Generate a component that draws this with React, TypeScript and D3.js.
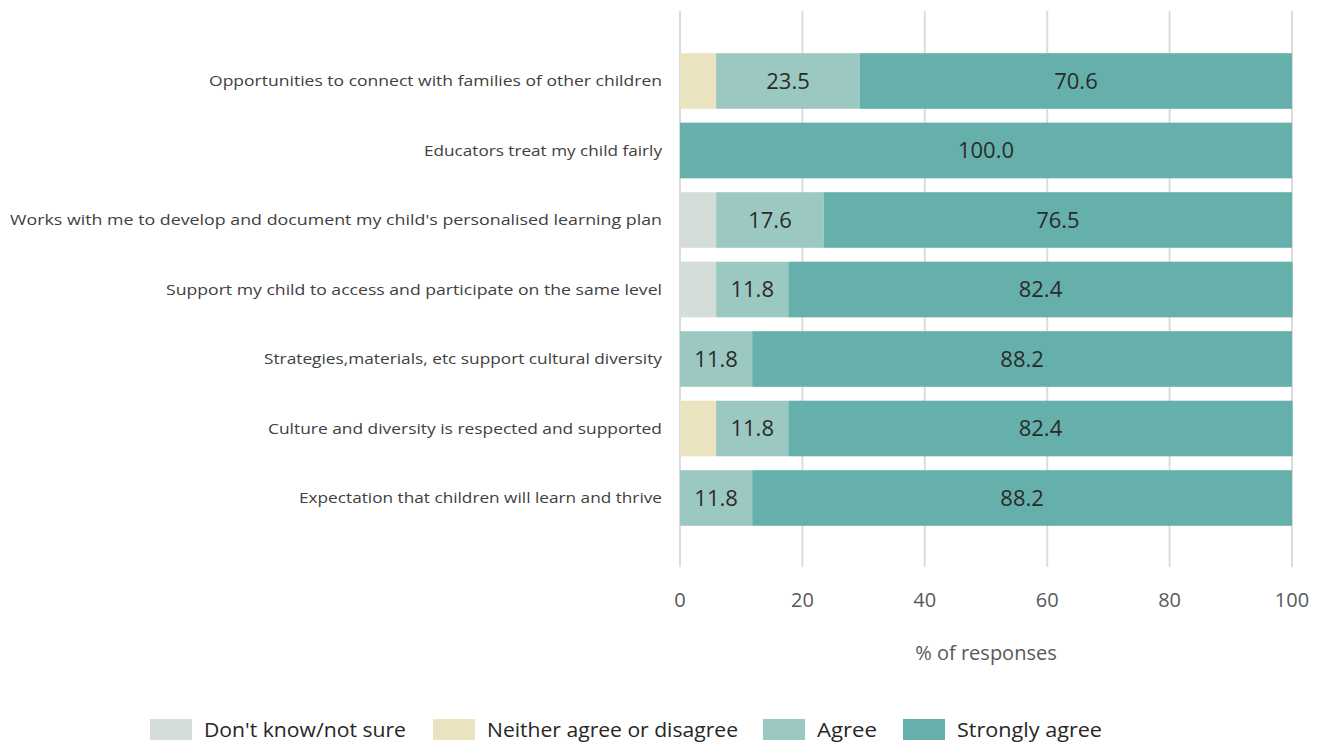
import React from "react";
import * as d3 from "d3";

const categories = [
  "Opportunities to connect with families of other children",
  "Educators treat my child fairly",
  "Works with me to develop and document my child's personalised learning plan",
  "Support my child to access and participate on the same level",
  "Strategies,materials, etc support cultural diversity",
  "Culture and diversity is respected and supported",
  "Expectation that children will learn and thrive",
];
const seriesNames = ["Don't know/not sure", "Neither agree or disagree", "Agree", "Strongly agree"];
const dontKnow = [0, 0, 5.9, 5.9, 0, 0, 0];
const neither = [5.9, 0, 0, 0, 0, 5.9, 0];
const agree = [23.5, 0, 17.6, 11.8, 11.8, 11.8, 11.8];
const stronglyAgree = [70.6, 100, 76.5, 82.4, 88.2, 82.4, 88.2];
const xTicks = [0, 20, 40, 60, 80, 100];
const colors = ["#d4ddd9", "#e9e3c0", "#9bc9c2", "#65b0ab"];
const labelWidths = [453, 238, 652, 496, 398, 394, 363];

const W = 1326;
const H = 743;

export default function App() {
  const x = d3.scaleLinear().domain([0, 100]).range([680, 1292]);
  const y = d3.scaleBand<string>().domain(categories).range([46.25, 532.75]).paddingInner(0.2).paddingOuter(0.1);
  const rows = categories.map((c, i) => ({
    cat: c,
    v0: dontKnow[i],
    v1: neither[i],
    v2: agree[i],
    v3: stronglyAgree[i],
  }));
  const stack = d3.stack<any>().keys(["v0", "v1", "v2", "v3"]);
  const layers = stack(rows);
  const font = "'Segoe UI', 'Open Sans', 'DejaVu Sans', sans-serif";
  const legendX = [150, 433, 763, 903];
  const legendTextW = [202, 251, 60, 145];
  return (
    <svg width={W} height={H} style={{ position: "absolute", left: 0, top: 0, background: "#fff" }} fontFamily={font}>
      {xTicks.map((t) => (
        <line key={t} x1={x(t)} x2={x(t)} y1={11} y2={567} stroke="#dcdcdc" strokeWidth={2} />
      ))}
      {layers.map((layer, li) =>
        layer.map((d, i) => {
          const w = x(d[1]) - x(d[0]);
          if (w <= 0) return null;
          const val = (d[1] - d[0]);
          const yy = y(categories[i])!;
          return (
            <g key={li + "-" + i}>
              <rect x={x(d[0])} y={yy} width={w} height={y.bandwidth()} fill={colors[li]} />
              {val >= 10 && (
                <text
                  x={(x(d[0]) + x(d[1])) / 2}
                  y={yy + y.bandwidth() / 2}
                  dy="0.35em"
                  textAnchor="middle"
                  fontSize={22}
                  fill="#2b2b2b"
                >
                  {val.toFixed(1)}
                </text>
              )}
            </g>
          );
        })
      )}
      {categories.map((c, i) => (
        <text
          key={c}
          x={662}
          y={y(c)! + y.bandwidth() / 2}
          dy="0.35em"
          textAnchor="end"
          fontSize={15}
          fill="#404040"
          textLength={labelWidths[i]}
          lengthAdjust="spacingAndGlyphs"
        >
          {c}
        </text>
      ))}
      {xTicks.map((t) => (
        <text key={t} x={x(t)} y={600} dy="0.35em" textAnchor="middle" fontSize={20} fill="#595959">
          {t}
        </text>
      ))}
      <text x={986} y={653} dy="0.35em" textAnchor="middle" fontSize={20} fill="#595959">
        % of responses
      </text>
      {seriesNames.map((s, i) => (
        <g key={s}>
          <rect x={legendX[i]} y={719} width={42} height={21} fill={colors[i]} />
          <text
            x={legendX[i] + 54}
            y={729.5}
            dy="0.35em"
            fontSize={20}
            fill="#262626"
            textLength={legendTextW[i]}
            lengthAdjust="spacingAndGlyphs"
          >
            {s}
          </text>
        </g>
      ))}
    </svg>
  );
}
